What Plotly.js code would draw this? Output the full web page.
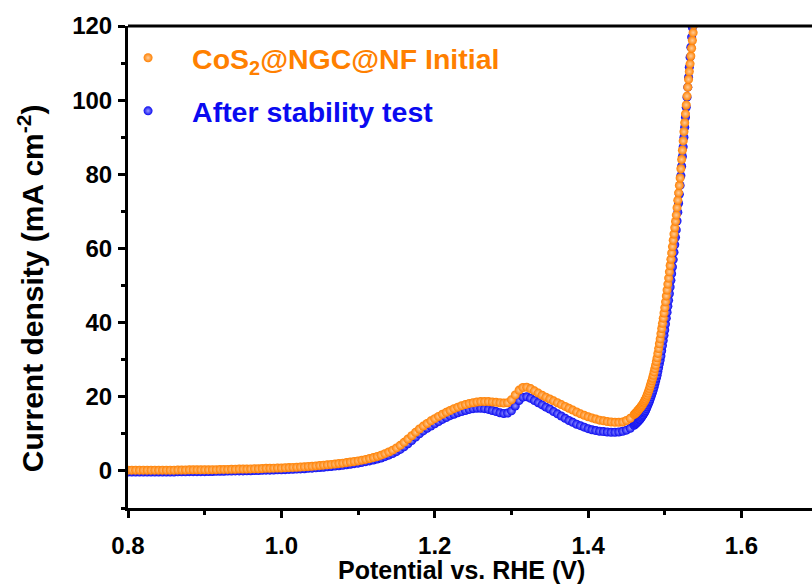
<!DOCTYPE html>
<html>
<head>
<meta charset="utf-8">
<script src="https://cdn.plot.ly/plotly-3.0.1.min.js"></script>
<style>html,body{margin:0;padding:0;background:#fff;}#chart{width:812px;height:586px;}</style>
</head>
<body>
<div id="chart"></div>
<script>
// Potential (V vs. RHE): 5 mV steps up to 1.455 V, 1 mV steps across the steep OER rise
const potential = [
0.800,0.805,0.810,0.815,0.820,0.825,0.830,0.835,0.840,0.845,
0.850,0.855,0.860,0.865,0.870,0.875,0.880,0.885,0.890,0.895,
0.900,0.905,0.910,0.915,0.920,0.925,0.930,0.935,0.940,0.945,
0.950,0.955,0.960,0.965,0.970,0.975,0.980,0.985,0.990,0.995,
1.000,1.005,1.010,1.015,1.020,1.025,1.030,1.035,1.040,1.045,
1.050,1.055,1.060,1.065,1.070,1.075,1.080,1.085,1.090,1.095,
1.100,1.105,1.110,1.115,1.120,1.125,1.130,1.135,1.140,1.145,
1.150,1.155,1.160,1.165,1.170,1.175,1.180,1.185,1.190,1.195,
1.200,1.205,1.210,1.215,1.220,1.225,1.230,1.235,1.240,1.245,
1.250,1.255,1.260,1.265,1.270,1.275,1.280,1.285,1.290,1.295,
1.300,1.305,1.310,1.315,1.320,1.325,1.330,1.335,1.340,1.345,
1.350,1.355,1.360,1.365,1.370,1.375,1.380,1.385,1.390,1.395,
1.400,1.405,1.410,1.415,1.420,1.425,1.430,1.435,1.440,1.445,
1.450,1.455,
1.460,1.461,1.462,1.463,1.464,1.465,1.466,1.467,1.468,1.469,
1.470,1.471,1.472,1.473,1.474,1.475,1.476,1.477,1.478,1.479,
1.480,1.481,1.482,1.483,1.484,1.485,1.486,1.487,1.488,1.489,
1.490,1.491,1.492,1.493,1.494,1.495,1.496,1.497,1.498,1.499,
1.500,1.501,1.502,1.503,1.504,1.505,1.506,1.507,1.508,1.509,
1.510,1.511,1.512,1.513,1.514,1.515,1.516,1.517,1.518,1.519,
1.520,1.521,1.522,1.523,1.524,1.525,1.526,1.527,1.528,1.529,
1.530,1.531,1.532,1.533,1.534,1.535,1.536,1.537,1.538,1.539,
1.540];

// CoS2@NGC@NF initial (mA cm^-2)
const initialJ = [
0.2,0.2,0.2,0.2,0.2,0.2,0.2,0.2,0.2,0.2,
0.2,0.2,0.2,0.25,0.25,0.25,0.3,0.3,0.3,0.3,
0.3,0.3,0.35,0.35,0.4,0.4,0.4,0.45,0.45,0.5,
0.5,0.5,0.55,0.6,0.6,0.65,0.7,0.7,0.75,0.8,
0.8,0.85,0.9,0.95,1.0,1.05,1.1,1.2,1.25,1.35,
1.45,1.55,1.65,1.75,1.85,2.0,2.1,2.25,2.4,2.55,
2.7,2.9,3.1,3.35,3.6,3.9,4.25,4.65,5.1,5.6,
6.2,6.9,7.7,8.6,9.5,10.4,11.3,12.1,12.8,13.5,
14.1,14.7,15.3,15.8,16.3,16.8,17.2,17.6,17.9,18.2,
18.4,18.6,18.7,18.7,18.7,18.6,18.5,18.4,18.3,18.4,
19.2,20.5,21.8,22.5,22.6,22.2,21.6,21.0,20.4,19.9,
19.4,18.9,18.4,17.9,17.4,16.9,16.4,15.9,15.4,15.0,
14.6,14.3,14.0,13.7,13.5,13.3,13.2,13.1,13.1,13.2,
13.6,14.2,
15.2,15.4,15.6,15.8,16.0,16.3,16.5,16.8,17.0,17.3,
17.6,17.9,18.3,18.6,19.0,19.4,19.9,20.4,21.0,21.6,
22.2,22.9,23.6,24.3,25.0,25.8,26.7,27.6,28.5,29.5,
30.5,31.7,33.0,34.3,35.6,37.0,38.4,39.8,41.2,42.6,
44.0,45.6,47.2,48.8,50.4,52.0,53.7,55.4,57.1,58.8,
60.5,62.2,63.9,65.6,67.3,69.0,71.0,73.0,75.0,77.0,
79.0,81.5,84.0,86.5,89.0,91.5,93.9,96.3,98.7,101.1,
103.5,105.6,107.7,109.8,111.9,114.0,116.1,118.2,120.3,122.4,
124.5];

// After stability test (mA cm^-2)
const afterJ = [
-0.3,-0.3,-0.3,-0.3,-0.3,-0.3,-0.3,-0.3,-0.3,-0.3,
-0.3,-0.3,-0.3,-0.25,-0.25,-0.25,-0.2,-0.2,-0.2,-0.2,
-0.2,-0.15,-0.15,-0.1,-0.1,-0.1,-0.05,-0.05,0,0,
0,0.05,0.05,0.1,0.1,0.15,0.2,0.2,0.25,0.3,
0.3,0.35,0.4,0.45,0.5,0.55,0.6,0.7,0.75,0.85,
0.9,1.0,1.1,1.2,1.3,1.4,1.5,1.65,1.8,1.95,
2.1,2.3,2.5,2.7,2.95,3.2,3.5,3.85,4.25,4.7,
5.2,5.8,6.5,7.3,8.2,9.1,10.0,10.8,11.5,12.1,
12.7,13.3,13.9,14.4,14.9,15.3,15.7,16.0,16.3,16.6,
16.8,16.9,16.9,16.8,16.6,16.3,16.0,15.7,15.5,15.6,
16.2,17.5,19.0,19.9,20.0,19.6,19.0,18.4,17.8,17.2,
16.7,16.0,15.4,14.8,14.2,13.6,13.1,12.6,12.2,11.8,
11.4,11.1,10.9,10.7,10.6,10.5,10.4,10.4,10.5,10.7,
11.0,11.5,
12.3,12.5,12.7,12.9,13.1,13.3,13.5,13.8,14.0,14.3,
14.6,14.9,15.2,15.6,15.9,16.3,16.8,17.3,17.8,18.3,
18.8,19.4,20.0,20.6,21.2,21.8,22.6,23.4,24.2,25.0,
25.8,26.8,27.8,28.9,29.9,31.0,32.4,33.8,35.2,36.6,
38.0,39.6,41.2,42.8,44.4,46.0,47.8,49.6,51.4,53.2,
55.0,57.0,59.0,61.0,63.0,65.0,67.4,69.8,72.2,74.6,
77.0,79.6,82.2,84.8,87.4,90.0,92.7,95.4,98.1,100.8,
103.5,106.2,108.9,111.6,114.3,117.0,119.6,122.2,124.8,127.4,
130.0];

const seriesNames = ['CoS<sub>2</sub>@NGC@NF Initial', 'After stability test'];
const xTitle = 'Potential vs. RHE (V)';
const yTitle = 'Current density (mA cm<sup>-2</sup>)';
const xTicks = [0.8, 1.0, 1.2, 1.4, 1.6];
const xTickText = ['0.8', '1.0', '1.2', '1.4', '1.6'];
const yTicks = [0, 20, 40, 60, 80, 100, 120];

const ORANGE = '#FF8000';
const BLUE = '#0A0AF0';
const FONT = 'Liberation Sans, Arial, sans-serif';

const traces = [
  {
    x: potential, y: afterJ, type: 'scatter', mode: 'markers',
    name: '<span style="color:' + BLUE + '">' + seriesNames[1] + '</span>',
    legendrank: 2, legendgroup: 'b',
    marker: {symbol: 'circle', size: 9, color: BLUE,
             gradient: {type: 'radial', color: '#9A9AFF'},
             line: {width: 0}},
    cliponaxis: true
  },
  {
    x: potential, y: initialJ, type: 'scatter', mode: 'markers',
    name: '<span style="color:' + ORANGE + '">' + seriesNames[0] + '</span>',
    legendrank: 1, legendgroup: 'a',
    marker: {symbol: 'circle', size: 9, color: ORANGE,
             gradient: {type: 'radial', color: '#FFCC99'},
             line: {width: 0}},
    cliponaxis: true
  }
];

const axisCommon = {
  showline: true, linewidth: 3, linecolor: '#000',
  ticks: 'outside', ticklen: 7, tickwidth: 3, tickcolor: '#000',
  showgrid: false, zeroline: false,
  tickfont: {family: FONT, size: 24, color: '#000', weight: 700},
};

const layout = {
  width: 812, height: 586,
  margin: {l: 128, r: 0, t: 26, b: 78, pad: 0},
  paper_bgcolor: '#fff', plot_bgcolor: '#fff',
  showlegend: true,
  legend: {
    x: -0.035, xanchor: 'left', y: 0.986, yanchor: 'top',
    bgcolor: 'rgba(0,0,0,0)', borderwidth: 0,
    font: {family: FONT, size: 28.5, weight: 700},
    traceorder: 'grouped', tracegroupgap: 13, itemwidth: 78,
    itemsizing: 'trace'
  },
  xaxis: Object.assign({}, axisCommon, {
    range: [0.8, 1.692],
    tickvals: xTicks, ticktext: xTickText,
    ticklabelstandoff: 7,
    minor: {dtick: 0.1, tick0: 0.8, ticks: 'outside', ticklen: 4, tickwidth: 3, tickcolor: '#000'}
  }),
  yaxis: Object.assign({}, axisCommon, {
    range: [-10, 120],
    tickvals: yTicks,
    ticklabelstandoff: 1,
    minor: {dtick: 10, tick0: 0, ticks: 'outside', ticklen: 4, tickwidth: 3, tickcolor: '#000'}
  }),
  annotations: [
    {text: xTitle, xref: 'paper', yref: 'paper', x: 0.488, y: 0,
     xanchor: 'center', yanchor: 'middle', yshift: -62, showarrow: false,
     font: {family: FONT, size: 25, color: '#000', weight: 700}},
    {text: yTitle, xref: 'paper', yref: 'paper', x: 0, y: 0.456,
     xanchor: 'center', yanchor: 'middle', xshift: -97, textangle: -90, showarrow: false,
     font: {family: FONT, size: 30, color: '#000', weight: 700}}
  ],
  shapes: [
    {type: 'line', xref: 'paper', yref: 'paper', x0: 0, x1: 1, y0: 1, y1: 1,
     line: {color: '#000', width: 3}}
  ]
};

Plotly.newPlot('chart', traces, layout, {displayModeBar: false, staticPlot: true});
</script>
</body>
</html>
